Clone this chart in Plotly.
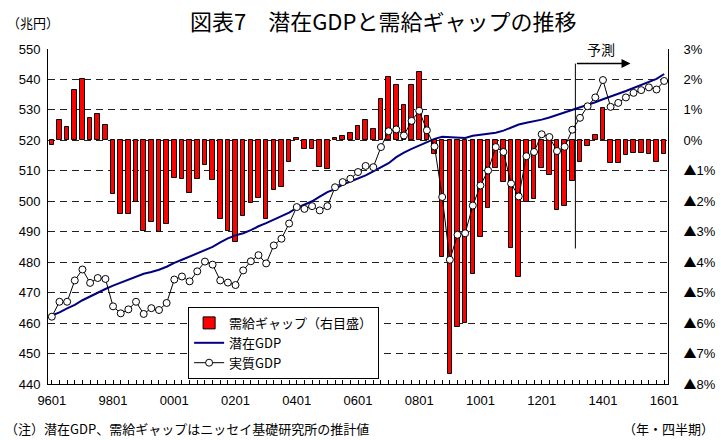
import plotly.graph_objects as go

# Quarter labels 1996Q1 .. 2016Q1
quarters = [f"{y % 100:02d}{q:02d}" for y in range(1996, 2017) for q in range(1, 5)][:81]
label_quarters = ["9601", "9801", "0001", "0201", "0401", "0601", "0801", "1001", "1201", "1401", "1601"]

# 需給ギャップ (%), right axis
gap = [-0.15, 0.68, 0.44, 1.67, 2.00, 0.73, 0.88, 0.49,
       -1.75, -2.42, -2.42, -2.04, -2.98, -2.69, -3.00, -2.74,
       -1.23, -1.26, -1.72, -1.28, -0.82, -1.29, -2.58, -2.96,
       -3.35, -2.49, -2.05, -1.90, -2.58, -1.64, -1.53, -0.71,
       0.09, -0.27, -0.27, -0.88, -0.93, 0.09, 0.14, 0.24,
       0.46, 0.66, 0.36, 1.37, 2.08, 1.81, 1.15, 1.81,
       2.26, 0.79, -0.44, -3.82, -7.67, -6.14, -6.00, -4.38,
       -3.16, -2.23, -0.91, -1.37, -3.52, -4.50, -2.01, -1.94,
       -0.90, -1.15, -2.27, -2.14, -1.32, -0.71, -0.20, 0.16,
       1.06, -0.74, -0.73, -0.49, -0.41, -0.41, -0.44, -0.71,
       -0.44]

# 潜在GDP (兆円)
potential = [462.5, 463.5, 464.8, 466.0, 467.5, 468.8, 470.0, 471.2,
             472.3, 473.3, 474.3, 475.3, 476.2, 476.8, 477.5, 478.5,
             479.8, 480.8, 481.8, 482.8, 484.0, 485.0, 486.5, 487.8,
             488.8, 489.5, 490.5, 491.8, 492.8, 494.0, 495.2, 496.3,
             497.8, 499.0, 500.0, 501.5, 503.0, 504.0, 505.5, 506.5,
             507.5, 508.5, 509.8, 511.2, 512.5, 514.5, 516.0, 517.2,
             518.3, 519.3, 520.5, 521.2, 521.0, 520.8, 520.8, 521.5,
             521.8, 522.0, 522.5, 523.2, 524.2, 525.2, 525.8, 526.2,
             526.8, 527.5, 528.3, 529.2, 530.0, 530.8, 531.5, 532.5,
             533.5, 534.3, 535.3, 536.2, 537.2, 538.2, 539.2, 540.2,
             541.8]

# 実質GDP (兆円)
real = [462.1, 467.0, 467.0, 474.0, 477.6, 473.2, 474.8, 474.5,
        465.5, 463.2, 464.5, 467.0, 463.0, 464.9, 464.3, 466.6,
        474.3, 475.3, 473.7, 477.0, 480.2, 479.2, 474.0, 473.3,
        472.5, 477.3, 480.3, 482.3, 479.6, 485.5, 487.7, 492.7,
        498.1, 497.5, 498.4, 497.0, 498.4, 504.6, 506.3, 507.4,
        509.6, 511.6, 511.2, 517.8, 523.0, 523.6, 521.6, 526.4,
        529.7, 523.3, 518.0, 501.4, 480.8, 489.0, 489.5, 498.6,
        505.2, 510.1, 517.8, 516.2, 505.8, 501.6, 514.8, 516.2,
        522.0, 521.1, 516.5, 517.9, 523.5, 527.4, 531.2, 534.1,
        539.8, 531.0, 532.3, 534.1, 535.6, 536.5, 537.4, 536.7,
        539.5]

gap_ticks = list(range(-8, 4))
TRI = "<span style=\"font-family:'Noto Sans CJK JP'\">▲</span>"
gap_ticktext = [(TRI + "%d%%" % -v) if v < 0 else ("%d%%" % v) for v in gap_ticks]
gdp_ticks = list(range(440, 551, 10))

FONT = "Arial, 'Liberation Sans', 'Noto Sans CJK JP', sans-serif"
JFONT = "'Noto Sans CJK JP', sans-serif"

fig = go.Figure()
fig.add_trace(go.Bar(
    x=quarters, y=gap, yaxis="y", name="需給ギャップ（右目盛）", width=0.6,
    marker=dict(color="#FF0000", line=dict(color="black", width=1)),
))
fig.add_trace(go.Scatter(
    x=quarters, y=potential, yaxis="y2", mode="lines", name="潜在GDP",
    line=dict(color="#000080", width=2),
))
fig.add_trace(go.Scatter(
    x=quarters, y=real, yaxis="y2", mode="lines+markers", name="実質GDP",
    line=dict(color="black", width=1),
    marker=dict(symbol="circle", size=7, color="white", line=dict(color="black", width=1)),
))

fig.update_layout(
    width=721, height=440,
    margin=dict(l=48, r=53, t=49, b=56),
    paper_bgcolor="white", plot_bgcolor="white",
    font=dict(family=FONT, size=13, color="black"),
    bargap=0,
    xaxis=dict(
        type="category", range=[-0.5, 80.5], automargin=False,
        tickmode="array", tickvals=quarters,
        ticktext=[q if q in label_quarters else "" for q in quarters],
        ticks="inside", ticklen=4, tickcolor="black", ticklabelstandoff=4,
        showline=True, linecolor="black", linewidth=1,
        showgrid=False, tickfont=dict(size=13),
    ),
    yaxis=dict(
        side="right", range=[-8, 3], tickvals=gap_ticks, ticktext=gap_ticktext,
        automargin=False,
        showgrid=True, gridcolor="#222", griddash="7px,5px", gridwidth=1,
        showline=True, linecolor="black", linewidth=1, zeroline=False,
        ticks="", tickfont=dict(size=13), ticklabelstandoff=12,
    ),
    yaxis2=dict(
        overlaying="y", side="left", range=[440, 550], tickvals=gdp_ticks,
        automargin=False,
        showgrid=False, showline=True, linecolor="black", linewidth=1,
        zeroline=False, ticks="", tickfont=dict(size=13), ticklabelstandoff=4,
    ),
    legend=dict(
        x=0.226, y=0.23, xanchor="left", yanchor="top",
        bgcolor="white", bordercolor="black", borderwidth=1,
        font=dict(family=JFONT, size=13), tracegroupgap=0,
    ),
    showlegend=True,
)

# forecast marker
fig.add_shape(type="line", xref="x", yref="y2", x0=68.4, x1=68.4, y0=484.5, y1=545.2,
              line=dict(color="black", width=1))
fig.add_annotation(xref="x", yref="y2", x=75.6, y=545.2, ax=68.4, ay=545.2,
                   axref="x", ayref="y2", text="", showarrow=True,
                   arrowhead=2, arrowsize=1.2, arrowwidth=1.5, arrowcolor="black")
fig.add_annotation(xref="x", yref="y2", x=71.8, y=550, text="予測", showarrow=False,
                   bgcolor="white", font=dict(family=JFONT, size=14), borderpad=2)

# texts
fig.add_annotation(xref="paper", yref="paper", x=0.54, y=1.0, yshift=29, text="図表7　潜在GDPと需給ギャップの推移",
                   showarrow=False, xanchor="center", yanchor="middle",
                   font=dict(family=JFONT, size=22))
fig.add_annotation(xref="paper", yref="paper", x=-0.07, y=1.0, yshift=27, text="（兆円）",
                   showarrow=False, xanchor="left", yanchor="middle",
                   font=dict(family=JFONT, size=13))
fig.add_annotation(xref="paper", yref="paper", x=-0.072, y=0, yshift=-44,
                   text="（注）潜在GDP、需給ギャップはニッセイ基礎研究所の推計値",
                   showarrow=False, xanchor="left", yanchor="middle",
                   font=dict(family=JFONT, size=13))
fig.add_annotation(xref="paper", yref="paper", x=1.0, xshift=48, y=0, yshift=-44,
                   text="（年・四半期）", showarrow=False, xanchor="right", yanchor="middle",
                   font=dict(family=JFONT, size=13))

fig.write_html("out.html", config={"displayModeBar": False},
               post_script="document.body.style.margin='0px';")
